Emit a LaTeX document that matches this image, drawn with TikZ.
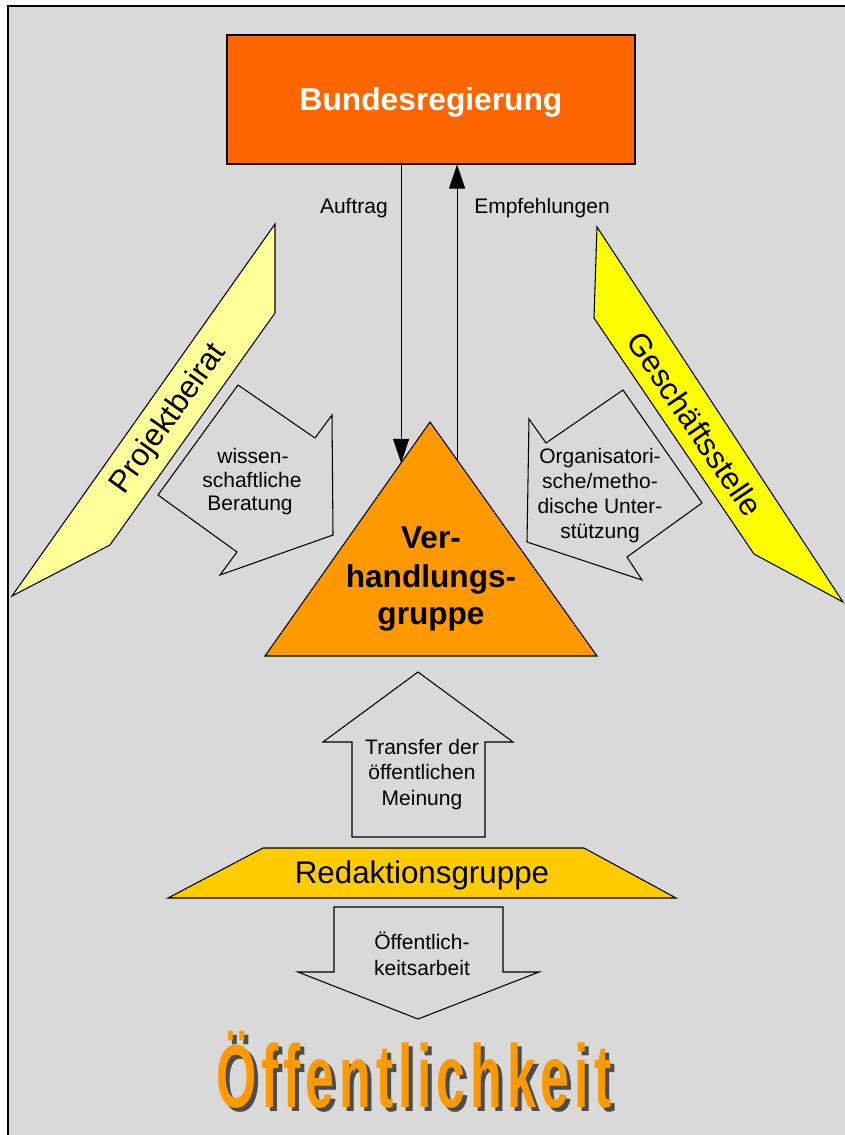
\documentclass[tikz,border=0pt]{standalone}
\usepackage{fontspec}
\usepackage{graphicx}
\setmainfont{Liberation Sans}
\newfontfamily\bigfont{Liberation Sans}[LetterSpace=9.5]
\usetikzlibrary{arrows.meta,calc}
\definecolor{bg}{RGB}{217,217,217}
\definecolor{bundc}{RGB}{255,102,0}
\definecolor{verh}{RGB}{255,153,0}
\definecolor{pbeirat}{RGB}{255,255,153}
\definecolor{gstelle}{RGB}{255,255,0}
\definecolor{redak}{RGB}{255,204,0}
\definecolor{shadowc}{RGB}{77,77,77}
\tikzset{
  outl/.style={draw=black, line width=0.8pt, line join=miter},
  small/.style={font=\fontsize{15.75}{18}\selectfont, anchor=base, inner sep=0pt},
  big/.style={font=\fontsize{23.5}{28}\selectfont, inner sep=0pt},
  bigbold/.style={font=\bfseries\fontsize{23.7}{28}\selectfont, anchor=base, inner sep=0pt},
  arr/.style={line width=0.8pt, -{Triangle[length=18pt,width=12pt]}},
  oeftext/.style={font=\bigfont\bfseries\fontsize{67}{70}\selectfont, anchor=base west, inner sep=0pt},
}
\begin{document}
\begin{tikzpicture}[x=0.75pt,y=-0.75pt]
\useasboundingbox (0,0) rectangle (845,1135);
\fill[bg] (7.5,5.5) rectangle (845,1135);
\draw[line width=1.5pt] (7.5,1135) -- (7.5,5.5) -- (845,5.5);

% Bundesregierung
\node[outl, fill=bundc, minimum width=306pt, minimum height=96.75pt, inner sep=0pt] (bund) at (431,99.5) {};
\node[bigbold, text=white, font=\bfseries\fontsize{23.8}{28}\selectfont] (bundt) at (431,110) {Bundesregierung};

% Projektbeirat
\draw[outl, fill=pbeirat] (275,224) coordinate (pb1) -- (275,313) coordinate (pb2) -- (110,545) coordinate (pb3) -- (12,596) coordinate (pb4) -- cycle;
\node[big, rotate=54.6] (pbt) at (169,419) {Projektbeirat};

% Geschaeftsstelle
\draw[outl, fill=gstelle] (597,227) coordinate (gs1) -- (594,318) coordinate (gs2) -- (754,554) coordinate (gs3) -- (843,602) coordinate (gs4) -- cycle;
\node[big, rotate=-55.9] (gst) at (695,424) {Geschäftsstelle};

% left block arrow
\draw[outl, fill=bg] (238,385) -- (315,438) -- (332,415) -- (333,535) -- (220,575) -- (237,552) -- (158,495) -- cycle;
\node[small] (w1) at (253,463) {wissen-};
\node[small] (w2) at (252,487) {schaftliche};
\node[small] (w3) at (250,510) {Beratung};

% right block arrow
\draw[outl, fill=bg] (623,390) -- (702,503) -- (627,557) -- (642,580) -- (527,542) -- (529,419) -- (546,443) -- cycle;
\node[small] (o1) at (600,463) {Organisatori-};
\node[small] (o2) at (600,488) {sche/metho-};
\node[small] (o3) at (600,513) {dische Unter-};
\node[small] (o4) at (600,538) {stützung};

% Verhandlungsgruppe
\draw[outl, fill=verh] (430,422) coordinate (apex) -- (597,656) coordinate (br) -- (265,656) coordinate (bl) -- cycle;
\node[bigbold] (v1) at (431,548) {Ver-};
\node[bigbold] (v2) at (431,587) {handlungs-};
\node[bigbold] (v3) at (431,624) {gruppe};

% Auftrag / Empfehlungen
\coordinate (aufend) at ($(apex)!0.175!(bl)$);
\coordinate (empstart) at ($(apex)!0.162!(br)$);
\draw[arr] (bund.south -| aufend) -- (aufend);
\draw[arr] (empstart) -- (empstart |- bund.south);
\node[small, anchor=base east] (auft) at (388,213) {Auftrag};
\node[small, anchor=base west] (empt) at (474,213) {Empfehlungen};

% up arrow
\draw[outl, fill=bg] (418,672) -- (513,742) -- (485,742) -- (485,837) -- (352,837) -- (352,742) -- (323,742) -- cycle;
\node[small] (t1) at (422,754) {Transfer der};
\node[small] (t2) at (422,779) {öffentlichen};
\node[small] (t3) at (422,805) {Meinung};

% Redaktionsgruppe
\draw[outl, fill=redak] (263,848) -- (584,848) -- (676,898) -- (168,898) -- cycle;
\node[big, anchor=base] (red) at (422,883) {Redaktionsgruppe};

% down arrow
\draw[outl, fill=bg] (334,907) -- (503,907) -- (503,972) -- (539,972) -- (418,1019) -- (298,972) -- (334,972) -- cycle;
\node[small] (d1) at (422,949) {Öffentlich-};
\node[small] (d2) at (422,975) {keitsarbeit};

% Oeffentlichkeit
\node[oeftext, text=shadowc] (oefs) at (220,1111) {\scalebox{0.58}[1]{Öffentlichkeit}};
\node[oeftext, text=verh] (oef) at (216,1107) {\scalebox{0.58}[1]{Öffentlichkeit}};
\end{tikzpicture}
\end{document}
